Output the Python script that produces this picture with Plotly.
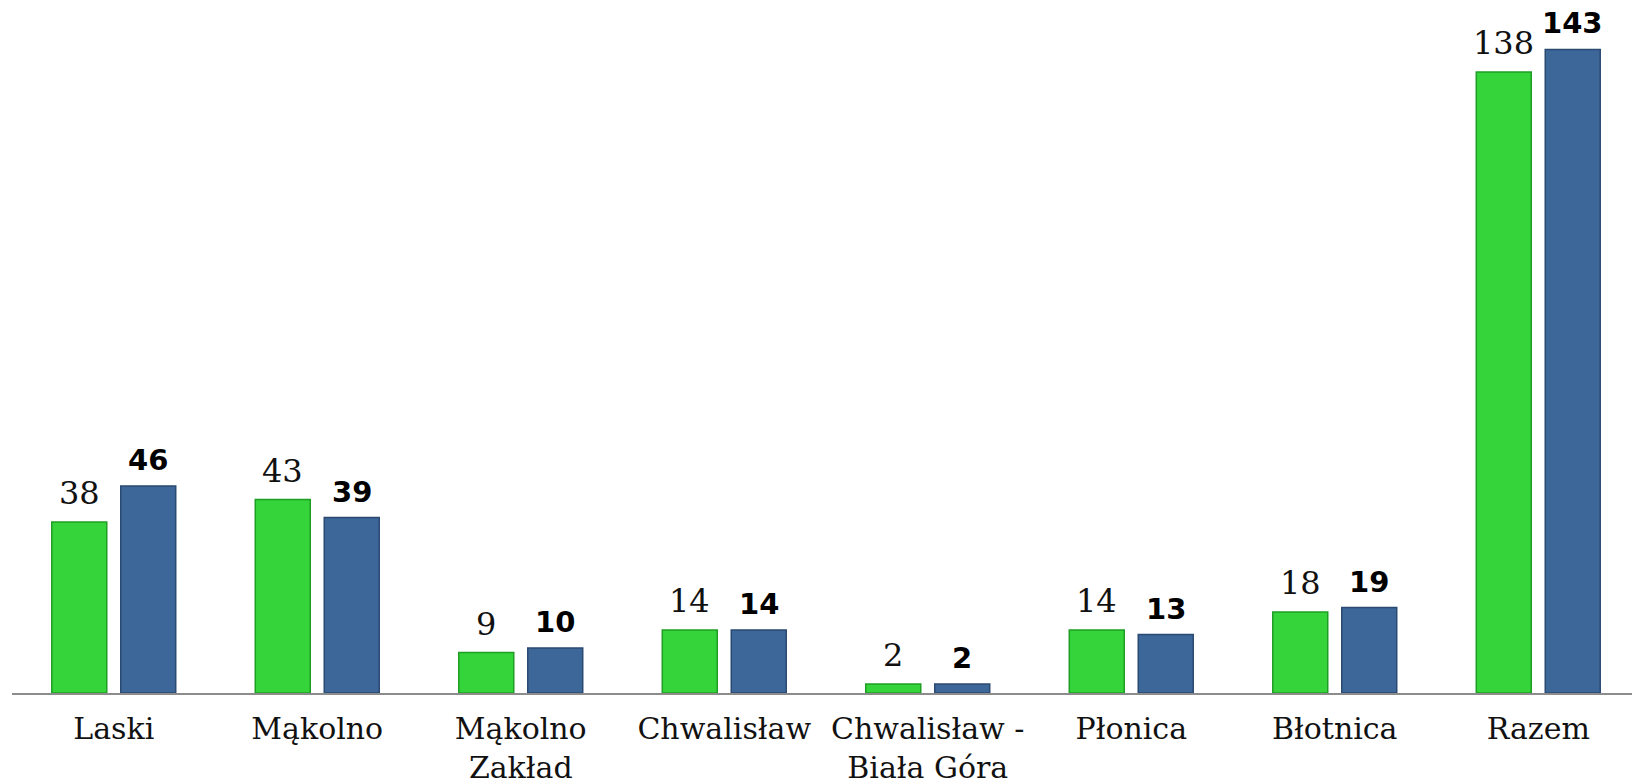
import plotly.graph_objects as go

categories = ["Laski", "Mąkolno", "Mąkolno<br>Zakład", "Chwalisław", "Chwalisław -<br>Biała Góra",
              "Płonica", "Błotnica", "Razem"]
series_a = [38, 43, 9, 14, 2, 14, 18, 138]
series_b = [46, 39, 10, 14, 2, 13, 19, 143]

green = "#35D43A"
blue = "#3D6699"

fig = go.Figure()
fig.add_trace(go.Bar(x=categories, y=series_a, marker=dict(color=green, line=dict(color="#1F9E25", width=1.5)),
                     name="A", showlegend=False))
fig.add_trace(go.Bar(x=categories, y=series_b, marker=dict(color=blue, line=dict(color="#2A4A72", width=1.5)),
                     name="B", showlegend=False))

annotations = []
for c, a, b in zip(categories, series_a, series_b):
    annotations.append(dict(x=c, y=a, xref="x", yref="y", text=str(a), showarrow=False,
                            xshift=-34.5, yanchor="bottom", yshift=8,
                            font=dict(family="DejaVu Serif", size=32, color="#111111")))
    annotations.append(dict(x=c, y=b, xref="x", yref="y", text="<b>%d</b>" % b, showarrow=False,
                            xshift=34.5, yanchor="bottom", yshift=7,
                            font=dict(family="DejaVu Sans", size=29, color="#000000")))

fig.update_layout(
    width=1640, height=784,
    margin=dict(l=4, r=8, t=10, b=99),
    paper_bgcolor="white", plot_bgcolor="white",
    barmode="group", bargap=0.322, bargroupgap=0.203,
    annotations=annotations,
    xaxis=dict(showline=True, linecolor="#8C8C8C", linewidth=2, ticks="", showgrid=False, automargin=False,
               tickfont=dict(family="DejaVu Serif", size=30, color="#111111"), ticklabelstandoff=8),
    yaxis=dict(range=[0, 150], visible=False, showgrid=False, zeroline=False, automargin=False),
)
fig.write_html("out.html")
